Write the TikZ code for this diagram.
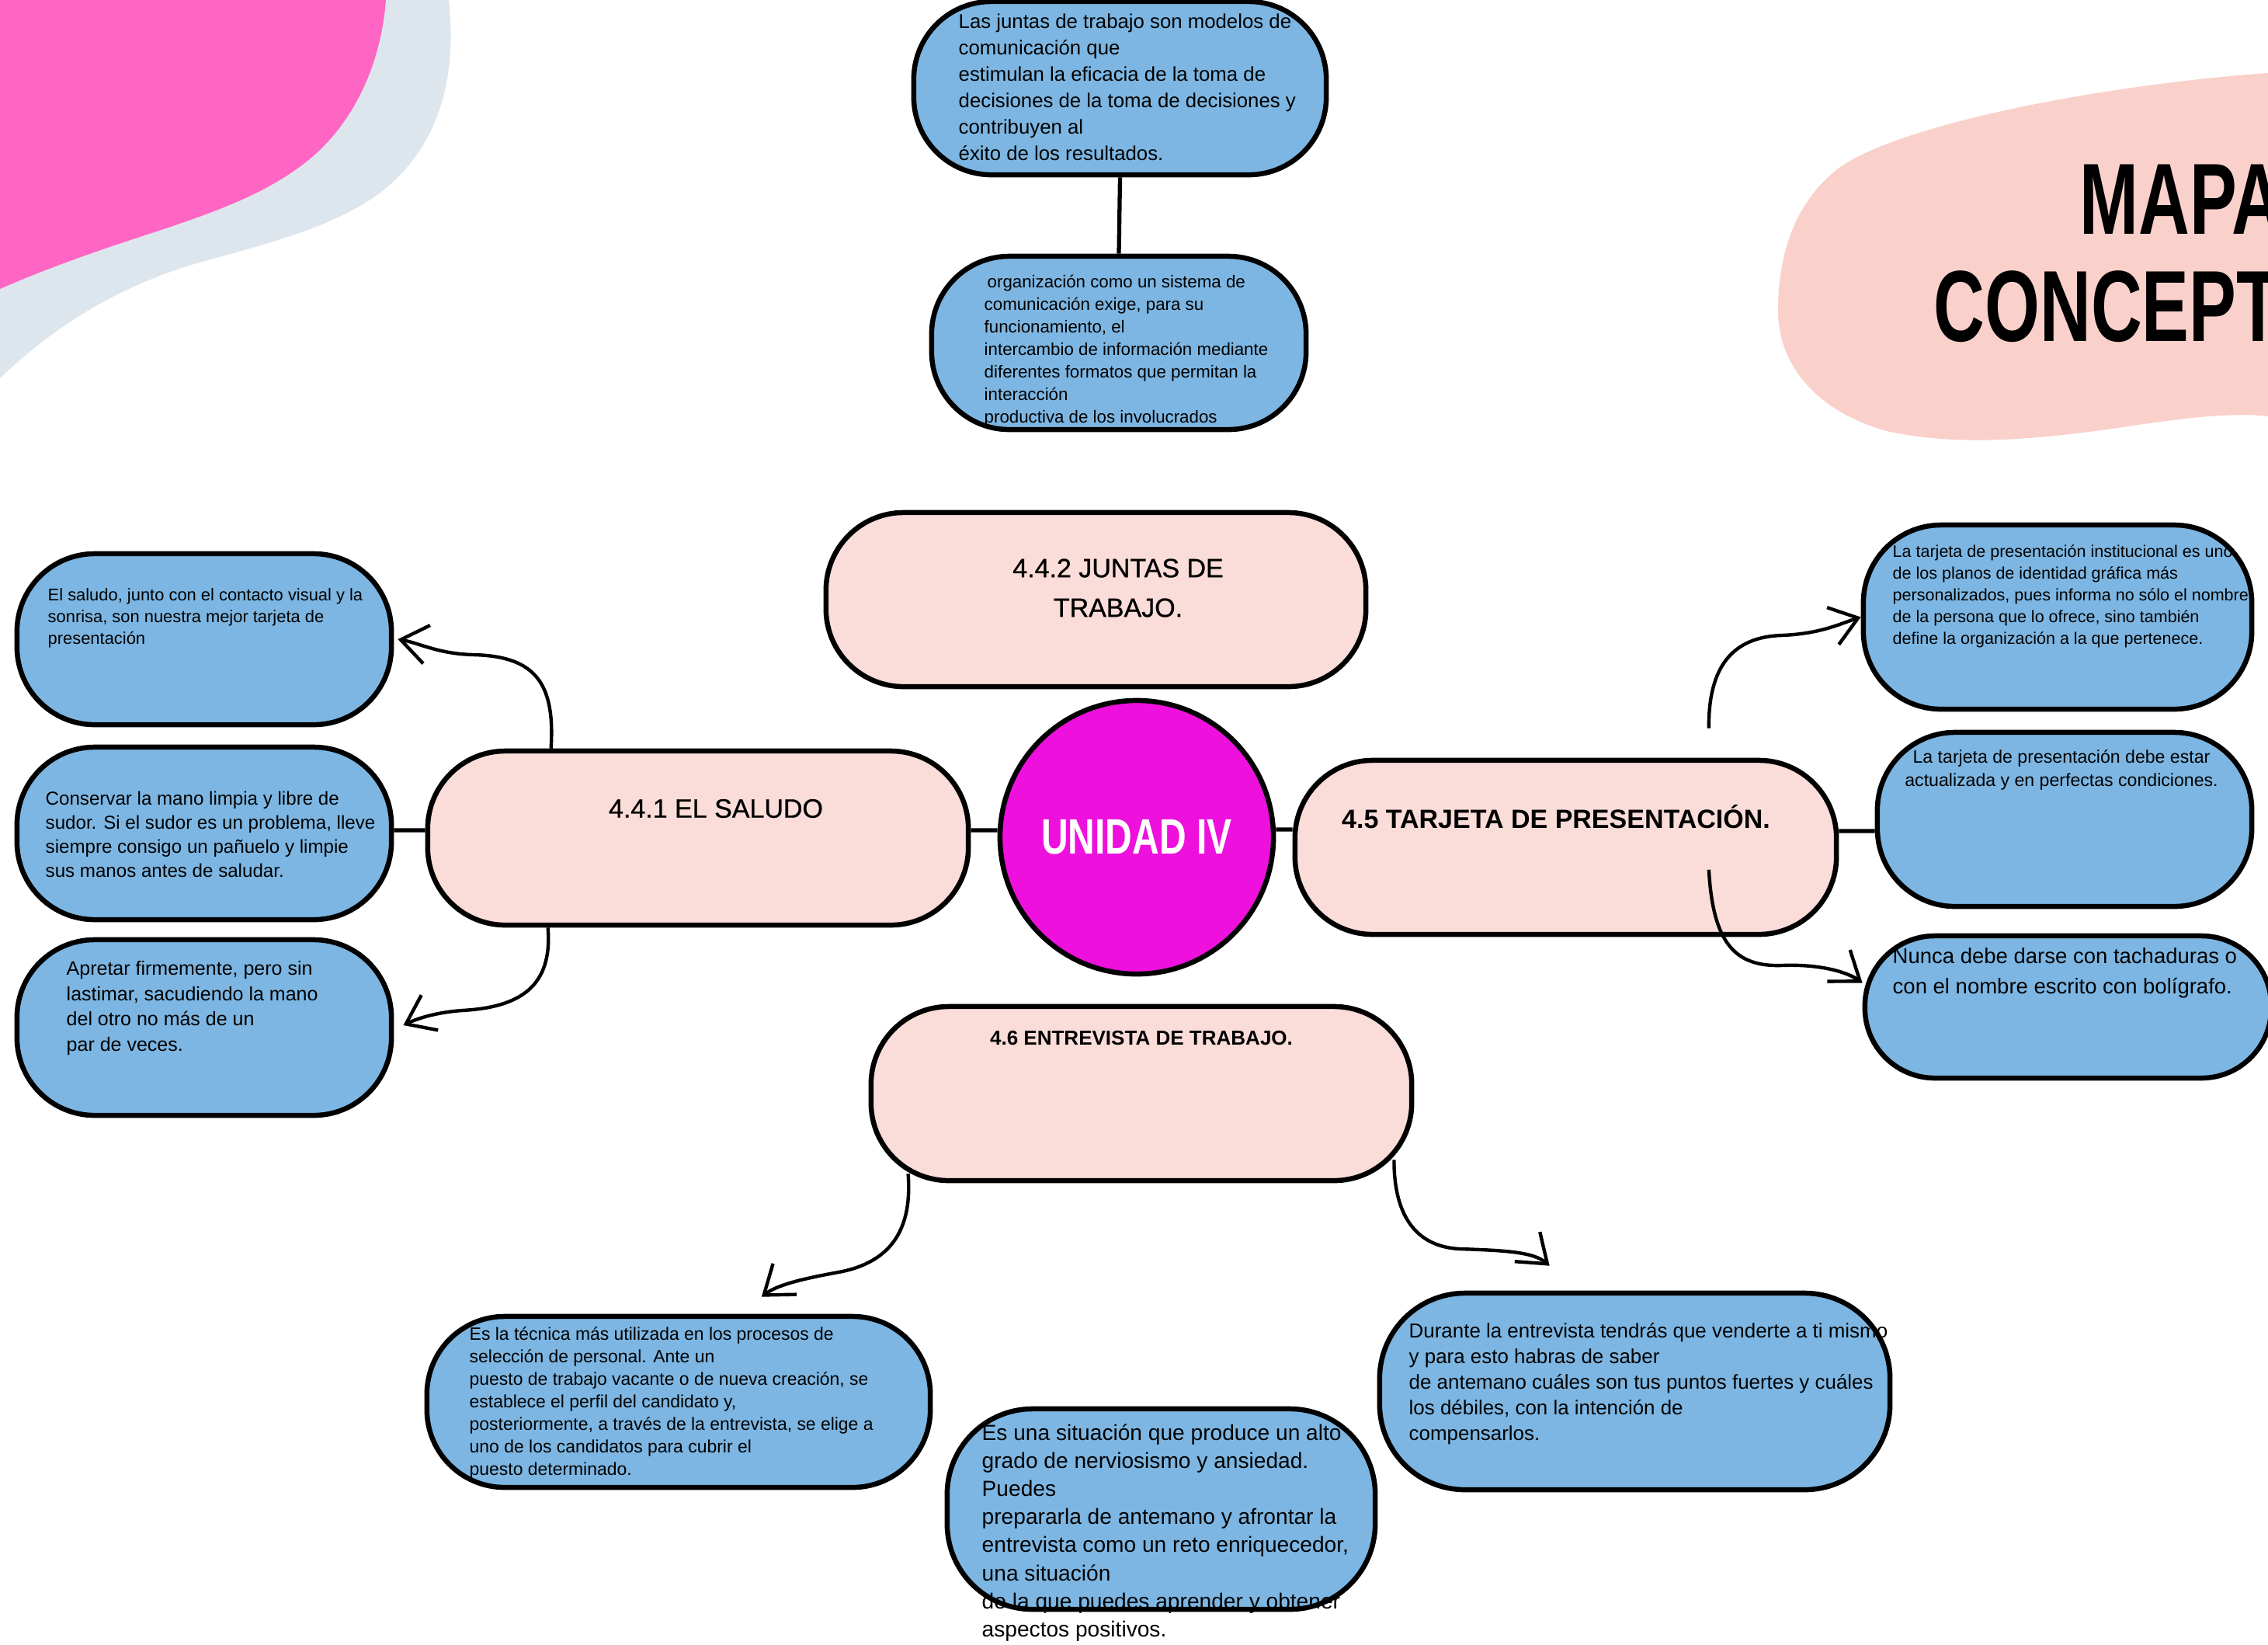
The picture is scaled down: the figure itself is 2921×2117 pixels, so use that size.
\documentclass[tikz,border=0pt]{standalone}
\usepackage{fontspec}
\setmainfont{Liberation Sans}
\newfontfamily\condfont[FakeStretch=0.75]{Liberation Sans}
\newfontfamily\titlefont[FakeStretch=0.7]{Liberation Sans}
\newfontfamily\medfont[FakeBold=0.8]{Liberation Sans}
\usetikzlibrary{arrows.meta}
\definecolor{boxblue}{HTML}{7DB6E2}
\definecolor{boxpink}{HTML}{FADCD9}
\definecolor{hubmag}{HTML}{EE10DC}
\definecolor{blobpink}{HTML}{FF66C4}
\definecolor{blobgray}{HTML}{DEE6ED}
\definecolor{titlepink}{HTML}{FAD0CB}
\begin{document}
\begin{tikzpicture}[x=0.01cm,y=-0.01cm,
  bluebox/.style={draw=black,line width=1.85pt,fill=boxblue,rounded corners=1cm,inner sep=0pt},
  pinkbox/.style={draw=black,line width=1.85pt,fill=boxpink,rounded corners=1cm,inner sep=0pt},
  body/.style={anchor=north west,inner sep=0pt,align=left,text=black},
  head/.style={inner sep=0pt,align=center,text=black},
  link/.style={line width=1.5pt},
  arr/.style={line width=1.25pt,-{Straight Barb[length=3.4mm,width=5mm]}}]
\useasboundingbox (0,0) rectangle (2921,2117);
\begin{scope}
\clip (0,0) rectangle (2921,2117);
\fill[white] (0,0) rectangle (2921,2117);
% decorations
\fill[blobgray] (0,0) -- (578,0) .. controls (590,110) and (560,200) .. (480,255)
  .. controls (420,295) and (340,315) .. (250,340) .. controls (150,370) and (70,420) .. (0,487) -- cycle;
\fill[blobpink] (0,0) -- (497,0) .. controls (490,90) and (450,170) .. (383,217)
  .. controls (320,262) and (240,285) .. (150,315) .. controls (100,332) and (50,350) .. (0,372) -- cycle;
\fill[titlepink] (2921,94) .. controls (2700,110) and (2450,160) .. (2370,215)
  .. controls (2310,260) and (2290,330) .. (2290,400) .. controls (2290,470) and (2340,530) .. (2430,555)
  .. controls (2520,575) and (2620,566) .. (2720,552) .. controls (2800,540) and (2870,530) .. (2921,536) -- cycle;
\node[anchor=base west,inner sep=0pt,font=\titlefont\bfseries\fontsize{37}{40}\selectfont] (ttl1) at (2678,301) {MAPA};
\node[anchor=base west,inner sep=0pt,font=\titlefont\bfseries\fontsize{37}{40}\selectfont] (ttl2) at (2490,439) {CONCEPTUAL};

% boxes
\node[bluebox,minimum width=5.31cm,minimum height=2.23cm] (T1) at (1442.5,113.5) {};
\node[bluebox,minimum width=4.82cm,minimum height=2.23cm] (T2) at (1441,441.5) {};
\node[pinkbox,minimum width=6.95cm,minimum height=2.24cm] (J) at (1411.5,772) {};
\node[pinkbox,minimum width=6.96cm,minimum height=2.24cm] (S) at (899,1079) {};
\node[pinkbox,minimum width=6.97cm,minimum height=2.24cm] (T) at (2016.5,1091) {};
\node[pinkbox,minimum width=6.96cm,minimum height=2.24cm] (E) at (1470,1408) {};
\node[circle,draw=black,line width=1.85pt,fill=hubmag,minimum size=3.52cm,inner sep=0pt,
  text=white,font=\condfont\bfseries\fontsize{18.2}{20}\selectfont] (C) at (1464,1078) {UNIDAD IV};
\node[bluebox,minimum width=4.82cm,minimum height=2.20cm] (L1) at (263,823) {};
\node[bluebox,minimum width=4.82cm,minimum height=2.22cm] (L2) at (263,1073) {};
\node[bluebox,minimum width=4.82cm,minimum height=2.26cm] (L3) at (263,1323) {};
\node[bluebox,minimum width=5.00cm,minimum height=2.37cm] (R1) at (2650,794.5) {};
\node[bluebox,minimum width=4.82cm,minimum height=2.24cm] (R2) at (2659,1055) {};
\node[bluebox,minimum width=5.23cm,minimum height=1.83cm,rounded corners=0.9cm] (R3) at (2663.5,1296.5) {};
\node[bluebox,minimum width=6.48cm,minimum height=2.20cm] (B1) at (874,1805) {};
\node[bluebox,minimum width=5.51cm,minimum height=2.58cm,rounded corners=1.1cm] (B2) at (1495.5,1943) {};
\node[bluebox,minimum width=6.57cm,minimum height=2.53cm,rounded corners=1.1cm] (B3) at (2105.5,1791.5) {};

% headings
\node[head,font=\medfont\fontsize{9.67}{14.5}\selectfont] (hJ) at (1440,757) {4.4.2 JUNTAS DE\\TRABAJO.};
\node[head,font=\medfont\fontsize{9.67}{12}\selectfont] (hS) at (922,1041) {4.4.1 EL SALUDO};
\node[head,font=\bfseries\fontsize{9.67}{12}\selectfont] (hT) at (2004,1052) {4.5 TARJETA DE PRESENTACIÓN.};
\node[head,font=\bfseries\fontsize{7.4}{9}\selectfont] (hE) at (1470,1337) {4.6 ENTREVISTA DE TRABAJO.};

% texts
\node[body,font=\fontsize{7.33}{9.67}\selectfont] (t1) at (1234,12) {\strut Las juntas de trabajo son modelos de\\comunicación que\\estimulan la eficacia de la toma de\\decisiones de la toma de decisiones y\\contribuyen al\\éxito de los resultados.};
\node[body,font=\fontsize{6.34}{8.25}\selectfont] (t2) at (1267,349) {\strut\hspace{0.04cm}organización como un sistema de\\comunicación exige, para su\\funcionamiento, el\\intercambio de información mediante\\diferentes formatos que permitan la\\interacción\\productiva de los involucrados};
\node[body,font=\fontsize{6.23}{7.97}\selectfont] (l1) at (61,753) {\strut El saludo, junto con el contacto visual y la\\sonrisa, son nuestra mejor tarjeta de\\presentación};
\node[body,font=\fontsize{6.86}{8.82}\selectfont] (l2) at (58,1014) {\strut Conservar la mano limpia y libre de\\sudor. Si el sudor es un problema, lleve\\siempre consigo un pañuelo y limpie\\sus manos antes de saludar.};
\node[body,font=\fontsize{7.11}{9.25}\selectfont] (l3) at (85,1232) {\strut Apretar firmemente, pero sin\\lastimar, sacudiendo la mano\\del otro no más de un\\par de veces.};
\node[body,font=\fontsize{6.12}{7.97}\selectfont] (r1) at (2437,697) {\strut La tarjeta de presentación institucional es uno\\de los planos de identidad gráfica más\\personalizados, pues informa no sólo el nombre\\de la persona que lo ofrece, sino también\\define la organización a la que pertenece.};
\node[body,anchor=north,align=center,font=\fontsize{6.57}{8.54}\selectfont] (r2) at (2655,961) {\strut La tarjeta de presentación debe estar\\actualizada y en perfectas condiciones.};
\node[body,font=\fontsize{7.82}{11.1}\selectfont] (r3) at (2437,1212) {\strut Nunca debe darse con tachaduras o\\con el nombre escrito con bolígrafo.};
\node[body,font=\fontsize{6.52}{8.25}\selectfont] (b1) at (604,1704) {\strut Es la técnica más utilizada en los procesos de\\selección de personal. Ante un\\puesto de trabajo vacante o de nueva creación, se\\establece el perfil del candidato y,\\posteriormente, a través de la entrevista, se elige a\\uno de los candidatos para cubrir el\\puesto determinado.};
\node[body,font=\fontsize{8.0}{10.24}\selectfont] (b2) at (1264,1829) {\strut Es una situación que produce un alto\\grado de nerviosismo y ansiedad.\\Puedes\\prepararla de antemano y afrontar la\\entrevista como un reto enriquecedor,\\una situación\\de la que puedes aprender y obtener\\aspectos positivos.};
\node[body,font=\fontsize{7.37}{9.39}\selectfont] (b3) at (1814,1699) {\strut Durante la entrevista tendrás que venderte a ti mismo\\y para esto habras de saber\\de antemano cuáles son tus puntos fuertes y cuáles\\los débiles, con la intención de\\compensarlos.};

% straight connectors
\draw[link] (T1.south) -- (T2.north);
\draw[link] ([yshift=0.04cm]L2.east) -- ([yshift=0.1cm]S.west);
\draw[link] ([yshift=0.1cm]S.east) -- ([yshift=0.09cm]C.west);
\draw[link] ([yshift=0.1cm]C.east) -- ([yshift=0.23cm]T.west);
\draw[link] ([yshift=0.21cm]T.east) -- ([yshift=-0.15cm]R2.west);

% curved arrows
\draw[arr] ([xshift=1.62cm]S.north west) .. controls (715,880) and (690,845) .. (610,843)
  .. controls (565,842) and (540,828) .. ([xshift=0.05cm]L1.east);
\draw[arr] ([xshift=1.58cm]S.south west) .. controls (712,1270) and (670,1297) .. (595,1301)
  .. controls (555,1304) and (532,1314) .. ([xshift=0.12cm,yshift=0.03cm]L3.east);
\draw[arr] ([xshift=5.36cm,yshift=0.38cm]T.north west) .. controls (2200,860) and (2230,820) .. (2295,818)
  .. controls (2345,816) and (2370,803) .. (R1.west);
\draw[arr] ([xshift=5.36cm,yshift=-1.44cm]T.north west) .. controls (2206,1215) and (2235,1245) .. (2295,1243)
  .. controls (2345,1241) and (2380,1252) .. ([yshift=0.31cm]R3.west);
\draw[arr] ([xshift=0.51cm,yshift=0.12cm]E.south west) .. controls (1175,1580) and (1150,1625) .. (1080,1638)
  .. controls (1030,1647) and (1000,1655) .. ([xshift=4.34cm,yshift=0.22cm]B1.north west);
\draw[arr] ([xshift=-0.26cm,yshift=0.30cm]E.south east) .. controls (1795,1560) and (1820,1605) .. (1880,1608)
  .. controls (1940,1610) and (1975,1612) .. ([xshift=2.22cm,yshift=0.32cm]B3.north west);
\end{scope}
\end{tikzpicture}
\end{document}
